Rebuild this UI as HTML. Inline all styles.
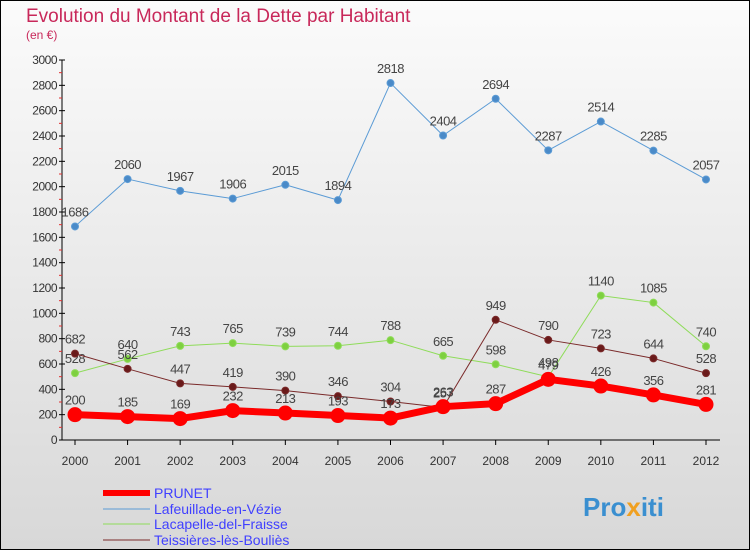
<!DOCTYPE html>
<html><head><meta charset="utf-8"><style>
body{margin:0;width:750px;height:550px;overflow:hidden;font-family:"Liberation Sans",sans-serif}
</style></head><body>
<svg width="750" height="550" xmlns="http://www.w3.org/2000/svg">
<defs><linearGradient id="bg" x1="0" y1="0" x2="0" y2="1"><stop offset="0" stop-color="#fbfbfb"/><stop offset="1" stop-color="#d8d8d8"/></linearGradient></defs>
<rect x="0.5" y="0.5" width="749" height="549" fill="url(#bg)" stroke="#000"/>
<text x="26" y="22" font-size="19" fill="#c8285a">Evolution du Montant de la Dette par Habitant</text>
<text x="26" y="39" font-size="12" fill="#c8285a">(en €)</text>
<g id="axes"></g><g id="series"></g>
<g>
<line x1="103" y1="493" x2="150" y2="493" stroke="#f00" stroke-width="6"/>
<text x="154" y="498" font-size="14" fill="#4040ff">PRUNET</text>
<line x1="103" y1="509" x2="150" y2="509" stroke="#5b9bd5" stroke-width="1"/>
<text x="154" y="514" font-size="14" fill="#4040ff">Lafeuillade-en-Vézie</text>
<line x1="103" y1="524" x2="150" y2="524" stroke="#8fdc5a" stroke-width="1"/>
<text x="154" y="529" font-size="14" fill="#4040ff">Lacapelle-del-Fraisse</text>
<line x1="103" y1="540" x2="150" y2="540" stroke="#7a2a2a" stroke-width="1"/>
<text x="154" y="545" font-size="14" fill="#4040ff">Teissières-lès-Bouliès</text>
</g>
<text x="583" y="516" font-size="26" font-weight="bold" fill="#3a8fd0">Pro<tspan fill="#f0a020">x</tspan>iti</text>
</svg>
<script>
const years=[2000,2001,2002,2003,2004,2005,2006,2007,2008,2009,2010,2011,2012];
const yTicks=[0,200,400,600,800,1000,1200,1400,1600,1800,2000,2200,2400,2600,2800,3000];
const prunet=[200,185,169,232,213,193,173,263,287,479,426,356,281];
const lafeuillade=[1686,2060,1967,1906,2015,1894,2818,2404,2694,2287,2514,2285,2057];
const lacapelle=[528,640,743,765,739,744,788,665,598,498,1140,1085,740];
const teissieres=[682,562,447,419,390,346,304,257,949,790,723,644,528];
const NS="http://www.w3.org/2000/svg";
const X=i=>75+i*(706-75)/12, Y=v=>440-v*380/3000;
function mk(t,a,p){const e=document.createElementNS(NS,t);for(const k in a)e.setAttribute(k,a[k]);p.appendChild(e);return e;}
const ax=document.getElementById('axes');
const yl=mk('line',{x1:62,y1:60,x2:62,y2:440,stroke:'#000'},ax);


const xl=mk('line',{x1:62,y1:440,x2:720,y2:440,stroke:'#000'},ax);


yTicks.forEach(v=>{mk('line',{x1:59,y1:Y(v),x2:65,y2:Y(v),stroke:'#000'},ax);
 if(v<3000)mk('line',{x1:59,y1:Y(v+100),x2:62,y2:Y(v+100),stroke:'#e03030'},ax);
 const t=mk('text',{x:57,y:Y(v)+4,'font-size':12,fill:'#333','text-anchor':'end','letter-spacing':'-0.5'},ax);t.textContent=v;
 
 });
years.forEach((y,i)=>{mk('line',{x1:X(i),y1:440,x2:X(i),y2:445,stroke:'#000'},ax);
 const t=mk('text',{x:X(i),y:465,'font-size':12,fill:'#333','text-anchor':'middle'},ax);t.textContent=y;
 
 });
const sg=document.getElementById('series');
function draw(vals,col,w,r,fill,name){const g=mk('g',{},sg);
 
 
 mk('polyline',{points:vals.map((v,i)=>X(i)+','+Y(v)).join(' '),fill:'none',stroke:col,'stroke-width':w,'stroke-linejoin':'round'},g);
 vals.forEach((v,i)=>{const c=mk('circle',{cx:X(i),cy:Y(v),r:r,fill:fill,stroke:col,'stroke-width':1},g);
  
  
  const t=mk('text',{x:X(i),y:Y(v)-10,'font-size':13,fill:'#444','text-anchor':'middle','letter-spacing':'-0.5'},g);t.textContent=v;});}
draw(lafeuillade,'#5b9bd5',1,3.5,'#4a8ac8','series-lafeuillade');
draw(lacapelle,'#8fdc5a',1,3.5,'#7ed040','series-lacapelle');
draw(teissieres,'#7a2a2a',1,3.5,'#6a1a1a','series-teissieres');
draw(prunet,'#f00',7,7,'#f00','series-prunet');
</script>
</body></html>
